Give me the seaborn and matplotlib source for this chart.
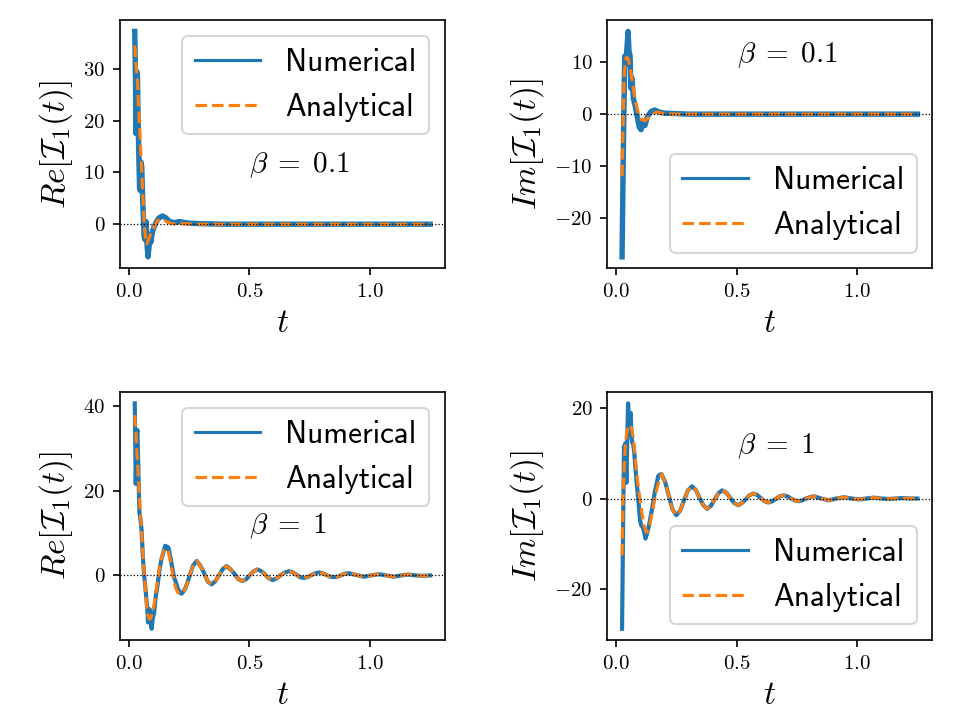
# Numerical vs analytical I_1(t), real and imaginary parts, for beta = 0.1 and beta = 1

import matplotlib
matplotlib.use('Agg')
import matplotlib.pyplot as plt
import seaborn as sns

plt.rcParams['font.family'] = 'serif'
plt.rcParams['font.serif'] = ['cmr10']
plt.rcParams['mathtext.fontset'] = 'cm'
plt.rcParams['axes.formatter.use_mathtext'] = True

blue = '#1f77b4'
orange = '#ff7f0e'

# ---- Re, beta = 0.1 ----
t_re01_num = [0.025, 0.028, 0.030, 0.033, 0.036, 0.039, 0.042, 0.045, 0.048, 0.051, 0.054, 0.057,
              0.060, 0.064, 0.068, 0.072, 0.076, 0.080, 0.084, 0.088, 0.092, 0.098, 0.105, 0.115,
              0.125, 0.140, 0.155, 0.170, 0.190, 0.210, 0.250, 0.300, 0.400, 0.600, 0.800, 1.000, 1.250]
v_re01_num = [37.2, 28.0, 17.5, 29.5, 28.5, 20.0, 13.0, 7.0, 6.5, 12.0, 11.0, 6.0,
              2.0, -2.5, -3.0, 0.5, -4.0, -6.3, -4.5, -2.0, -3.5, -1.5, -0.5, 0.5,
              1.2, 1.6, 1.2, 0.5, 0.3, 0.5, 0.2, 0.1, 0.0, 0.0, 0.0, 0.0, 0.0]
t_re01_ana = [0.025, 0.030, 0.035, 0.040, 0.045, 0.050, 0.055, 0.060, 0.065, 0.070, 0.075, 0.080,
              0.090, 0.100, 0.110, 0.120, 0.130, 0.145, 0.160, 0.180, 0.200, 0.250, 0.300, 0.400,
              0.600, 0.800, 1.000, 1.250]
v_re01_ana = [34.5, 31.0, 28.5, 23.5, 18.7, 13.9, 9.0, 4.2, -0.5, -3.0, -3.8, -3.2,
              -2.0, -1.0, 0.0, 0.7, 0.9, 0.8, 0.4, 0.1, 0.1, 0.05, 0.0, 0.0,
              0.0, 0.0, 0.0, 0.0]

# ---- Im, beta = 0.1 ----
t_im01_num = [0.025, 0.030, 0.036, 0.040, 0.044, 0.050, 0.054, 0.058, 0.062, 0.066, 0.072, 0.080,
              0.088, 0.096, 0.104, 0.112, 0.120, 0.130, 0.145, 0.160, 0.180, 0.200, 0.250, 0.300,
              0.400, 0.600, 0.800, 1.000, 1.250]
v_im01_num = [-27.6, -8.0, 11.2, 9.5, 12.0, 16.0, 12.0, 11.5, 5.0, 7.0, 3.0, 1.5,
              -0.5, -2.5, -3.0, -1.5, -2.2, -0.5, 0.5, 0.8, 0.4, 0.2, 0.1, 0.0,
              0.0, 0.0, 0.0, 0.0, 0.0]
t_im01_ana = [0.025, 0.029, 0.033, 0.038, 0.043, 0.050, 0.056, 0.062, 0.070, 0.080, 0.092, 0.105,
              0.120, 0.135, 0.150, 0.170, 0.200, 0.250, 0.300, 0.400, 0.600, 0.800, 1.000, 1.250]
v_im01_ana = [-12.0, -3.0, 6.5, 10.0, 11.0, 10.8, 9.5, 8.0, 5.5, 2.5, 0.3, -1.0,
              -1.3, -0.6, 0.0, 0.4, 0.1, 0.0, 0.0, 0.0, 0.0, 0.0, 0.0, 0.0]

# ---- Re, beta = 1 ----
t_re1_num_early = [0.025, 0.029, 0.033, 0.036, 0.040, 0.044, 0.048, 0.053, 0.058, 0.064, 0.070, 0.077,
                   0.080, 0.084, 0.087, 0.091, 0.095, 0.100, 0.105, 0.112, 0.119, 0.128, 0.136, 0.144,
                   0.151, 0.156, 0.160, 0.165, 0.172, 0.180, 0.188, 0.195, 0.203, 0.211]
v_re1_num_early = [40.6, 21.6, 33.0, 34.3, 25.0, 15.0, 13.5, 10.9, 5.0, 0.0, -3.5, -8.0,
                   -11.1, -8.5, -8.0, -11.0, -12.6, -10.0, -9.0, -5.0, -2.5, 1.5, 3.9, 5.5,
                   7.0, 6.3, 6.8, 6.5, 4.5, 2.0, -0.5, -1.5, -3.0, -4.0]
t_re1_ana_early = [0.025, 0.030, 0.035, 0.040, 0.045, 0.050, 0.055, 0.060, 0.065, 0.070, 0.075, 0.080,
                   0.085, 0.090, 0.095, 0.100, 0.105, 0.112, 0.119, 0.128, 0.136, 0.144, 0.151, 0.158,
                   0.165, 0.172, 0.180, 0.188, 0.195, 0.203, 0.211]
v_re1_ana_early = [37.8, 33.0, 28.0, 23.0, 18.0, 13.0, 8.5, 4.0, 0.0, -4.0, -7.5, -9.5,
                   -10.3, -10.2, -9.5, -8.5, -7.0, -4.5, -1.5, 2.0, 4.0, 5.6, 6.2, 6.3,
                   5.5, 3.5, 1.0, -1.5, -3.0, -4.0, -4.3]
t_re1_tail = [0.220, 0.2355, 0.251, 0.2665, 0.282, 0.297, 0.313, 0.328, 0.344, 0.359, 0.375, 0.390,
              0.405, 0.421, 0.438, 0.455, 0.472, 0.487, 0.503, 0.518, 0.534, 0.550, 0.566, 0.581,
              0.597, 0.614, 0.631, 0.648, 0.665, 0.680, 0.695, 0.710, 0.725, 0.741, 0.758, 0.774,
              0.790, 0.805, 0.820, 0.836, 0.851, 0.867, 0.882, 0.897, 0.913, 0.944, 0.975, 1.006,
              1.037, 1.068, 1.099, 1.130, 1.160, 1.190, 1.220, 1.250]
v_re1_tail = [-4.3, -3.0, -0.4, 2.3, 3.4, 2.3, 0.5, -1.5, -2.1, -1.4, 0.1, 1.5,
              2.2, 1.5, 0.4, -0.9, -1.3, -0.9, 0.1, 1.0, 1.4, 1.0, 0.2, -0.7,
              -1.1, -0.7, 0.1, 0.7, 1.0, 0.7, 0.2, -0.4, -0.6, -0.4, 0.1, 0.5,
              0.7, 0.5, 0.1, -0.3, -0.4, -0.3, 0.1, 0.4, 0.5, 0.1, -0.3, 0.0,
              0.3, 0.0, -0.3, 0.0, 0.2, 0.0, -0.1, 0.0]

# ---- Im, beta = 1 ----
t_im1_num_early = [0.025, 0.029, 0.033, 0.036, 0.039, 0.043, 0.047, 0.050, 0.054, 0.058, 0.061, 0.064,
                   0.067, 0.071, 0.075, 0.083, 0.092, 0.100, 0.105, 0.112, 0.117, 0.122, 0.127, 0.133,
                   0.140, 0.147, 0.154, 0.161, 0.168, 0.175, 0.182]
v_im1_num_early = [-28.9, -8.0, 11.6, 11.0, 12.3, 3.5, 14.0, 21.1, 15.9, 17.0, 19.0, 14.0,
                   12.5, 12.0, 10.6, 5.0, -0.1, -5.0, -6.0, -6.5, -7.5, -8.9, -8.0, -6.9,
                   -5.0, -3.0, -0.9, 1.5, 3.2, 5.0, 5.3]
t_im1_ana_early = [0.025, 0.029, 0.033, 0.039, 0.045, 0.051, 0.057, 0.064, 0.071, 0.078, 0.085, 0.095,
                   0.105, 0.115, 0.126, 0.133, 0.140, 0.150, 0.161, 0.171, 0.182]
v_im1_ana_early = [-12.6, -0.1, 6.0, 12.3, 14.8, 16.0, 16.3, 15.5, 13.8, 10.0, 5.7, 1.5,
                   -2.4, -5.8, -7.5, -7.2, -6.0, -3.0, 0.0, 2.5, 4.4]
t_im1_tail = [0.189, 0.204, 0.219, 0.234, 0.250, 0.266, 0.282, 0.298, 0.315, 0.331, 0.346, 0.362,
              0.378, 0.394, 0.409, 0.425, 0.440, 0.457, 0.474, 0.490, 0.507, 0.522, 0.538, 0.553,
              0.569, 0.585, 0.600, 0.616, 0.632, 0.648, 0.663, 0.679, 0.694, 0.710, 0.726, 0.741,
              0.757, 0.773, 0.788, 0.804, 0.820, 0.851, 0.882, 0.914, 0.946, 0.977, 1.008, 1.039,
              1.070, 1.100, 1.130, 1.160, 1.190, 1.220, 1.250]
v_im1_tail = [5.4, 3.6, 0.6, -2.4, -3.7, -2.7, -0.4, 1.8, 2.7, 1.9, 0.2, -1.5,
              -2.3, -1.6, -0.2, 1.2, 1.8, 1.3, 0.1, -1.0, -1.5, -1.0, -0.2, 0.7,
              1.1, 0.8, 0.1, -0.6, -0.9, -0.6, -0.1, 0.5, 0.7, 0.5, 0.0, -0.4,
              -0.6, -0.4, 0.0, 0.3, 0.5, 0.0, -0.4, 0.0, 0.3, 0.0, -0.2, 0.0,
              0.2, 0.0, -0.1, 0.0, 0.1, 0.0, 0.0]

panels = [
    (t_re01_num, v_re01_num, t_re01_ana, v_re01_ana, r'$Re[\mathcal{I}_1(t)]$', r'$\beta \;=\; 0.1$', 'upper right', 2.6),
    (t_im01_num, v_im01_num, t_im01_ana, v_im01_ana, r'$Im[\mathcal{I}_1(t)]$', r'$\beta \;=\; 0.1$', 'lower right', 2.6),
    (t_re1_num_early + t_re1_tail, v_re1_num_early + v_re1_tail,
     t_re1_ana_early + t_re1_tail, v_re1_ana_early + v_re1_tail,
     r'$Re[\mathcal{I}_1(t)]$', r'$\beta \;=\; 1$', 'upper right', 2.0),
    (t_im1_num_early + t_im1_tail, v_im1_num_early + v_im1_tail,
     t_im1_ana_early + t_im1_tail, v_im1_ana_early + v_im1_tail,
     r'$Im[\mathcal{I}_1(t)]$', r'$\beta \;=\; 1$', 'lower right', 2.0),
]

fig, axes = plt.subplots(2, 2, figsize=(6.4, 4.8), dpi=150)
fig.subplots_adjust(left=0.125, right=0.971, bottom=0.111, top=0.972, wspace=0.5, hspace=0.5)

for ax, (tn, vn, ta, va, ylab, beta, loc, lw_num) in zip(axes.flat, panels):
    sns.lineplot(x=tn, y=vn, ax=ax, color=blue, linewidth=lw_num, label='Numerical',
                 estimator=None, sort=False)
    sns.lineplot(x=ta, y=va, ax=ax, color=orange, linewidth=1.5, linestyle='--', label='Analytical',
                 estimator=None, sort=False)
    ax.axhline(0, color='k', linestyle=':', linewidth=0.6)
    ax.text(0.5, 10, beta, fontsize=14)
    ax.set_xlabel(r'$t$', fontsize=16)
    ax.set_ylabel(ylab, fontsize=16)
    leg = ax.legend(loc=loc, prop={'family': 'cmss10', 'size': 15}, handlelength=2.1)
    for line in leg.get_lines():
        line.set_linewidth(1.5)

fig.savefig('out.png', dpi=150)
